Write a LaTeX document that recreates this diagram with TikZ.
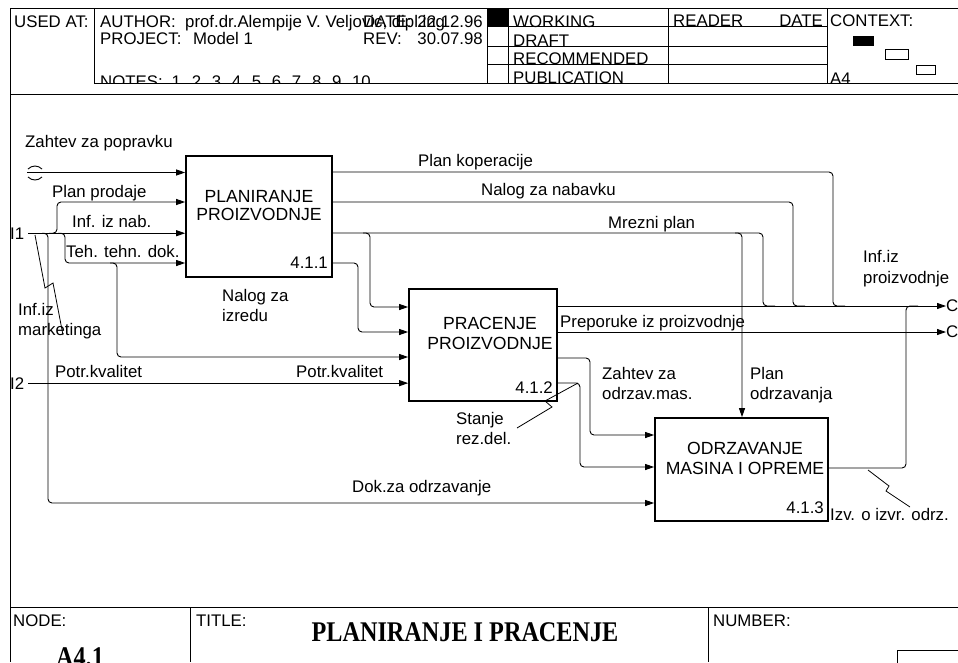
\documentclass[tikz,border=0pt]{standalone}
\usepackage{fontspec}
\setmainfont{Liberation Sans}
\newfontfamily\ttlfont{Liberation Serif}
\usetikzlibrary{arrows.meta}
\newcommand{\lbsize}{\fontsize{16.8}{19}\selectfont}
\newcommand{\bxsize}{\fontsize{17.6}{19}\selectfont}
\newcommand{\ttlsize}{\ttlfont\bfseries\fontsize{28.5}{30}\selectfont}
\newcommand{\nsp}{\hspace{10.7pt}}
\tikzset{
  act/.style={draw, line width=1.7pt, inner sep=0pt},
  bxt/.style={font=\bxsize, inner sep=0pt, anchor=base},
  lbl/.style={font=\lbsize, inner sep=0pt, anchor=base west},
  num/.style={font=\lbsize, inner sep=0pt, anchor=base east},
  arr/.style={-{Triangle[length=9pt,width=6pt]}, line width=0.9pt, rounded corners=4pt},
  flow/.style={line width=0.9pt, rounded corners=4pt},
  sqg/.style={line width=0.8pt},
  frm/.style={line width=0.9pt},
}

\begin{document}
\begin{tikzpicture}[x=1pt, y=-1pt]
  \useasboundingbox (0,0) rectangle (958,662);
  \clip (0,0) rectangle (958,662);

  % header
  \node[lbl] (usedat) at (14,27) {USED AT:};
  \node[lbl] (author) at (100,27) {AUTHOR:};
  \node[lbl] (authnm) at (185,27) {prof.dr.Alempije V. Veljovic, dipl.ing};
  \node[lbl] (date) at (363,27) {DATE:};
  \node[num] (dateval) at (483,27) {22.12.96};
  \node[lbl] (proj) at (100,44) {PROJECT:};
  \node[lbl] (projnm) at (193,44) {Model 1};
  \node[lbl] (rev) at (363,44) {REV:};
  \node[num] (revval) at (483,44) {30.07.98};
  \node[lbl] (notes) at (100,87) {NOTES:\hspace{9pt}1\nsp2\nsp3\nsp4\nsp5\nsp6\nsp7\nsp8\nsp9\nsp10};
  \fill[white] (94.5,83.5) rectangle (958,93.5);
  \fill[black] (487,8) rectangle (508,26);
  \node[lbl] (working) at (513,27) {WORKING};
  \node[lbl] (draft) at (513,46) {DRAFT};
  \node[lbl] (recom) at (513,64) {RECOMMENDED};
  \node[lbl] (publ) at (513,83) {PUBLICATION};
  \node[lbl] (reader) at (673,26) {READER};
  \node[num] (rdate) at (823,26) {DATE};
  \node[lbl] (context) at (830,26) {CONTEXT:};
  \node[lbl] (sheet) at (830,84) {A4};
  \fill[black] (853,36) rectangle (874,46);
  \draw[frm] (885,49) rectangle (908,59);
  \draw[frm] (916,65) rectangle (935,74);
  \draw[frm] (10,8) -- (958,8);
  \draw[frm] (10,8) -- (10,662);
  \draw[frm] (94,8) -- (94,83);
  \draw[frm] (487,8) -- (487,83);
  \draw[frm] (508,8) -- (508,83);
  \draw[frm] (668,8) -- (668,83);
  \draw[frm] (827,8) -- (827,83);
  \draw[frm] (487,26) -- (827,26);
  \draw[frm] (487,46) -- (827,46);
  \draw[frm] (487,64) -- (827,64);
  \draw[frm] (94,83) -- (958,83);
  \draw[frm] (10,94) -- (958,94);

  % activities
  \node[act, minimum width=146pt, minimum height=121pt] (b1) at (259,216.5) {};
  \node[act, minimum width=148pt, minimum height=112pt] (b2) at (483,345) {};
  \node[act, minimum width=173pt, minimum height=103pt] (b3) at (741.5,469.5) {};
  \node[bxt] (t1a) at (259,202) {PLANIRANJE};
  \node[bxt] (t1b) at (259,220) {PROIZVODNJE};
  \node[bxt] (t2a) at (490,329) {PRACENJE};
  \node[bxt] (t2b) at (490,349) {PROIZVODNJE};
  \node[bxt] (t3a) at (745,454) {ODRZAVANJE};
  \node[bxt] (t3b) at (745,474) {MASINA I OPREME};
  \node[num] (n1) at (328,268) {4.1.1};
  \node[num] (n2) at (553,393) {4.1.2};
  \node[num] (n3) at (824,513) {4.1.3};

  % boundary ends
  \node[lbl] (i1) at (10,239) {I1};
  \node[lbl] (i2) at (10,389) {I2};
  \node[font=\lbsize, inner sep=0pt, anchor=west] (c1) at (946,306) {C};
  \node[font=\lbsize, inner sep=0pt, anchor=west] (c2) at (946,332) {C};
  \coordinate (zp) at (27,172.5);
  \draw[flow] (28,169) .. controls (32,165) and (38,165) .. (42,169);
  \draw[flow] (28,177) .. controls (32,181) and (38,181) .. (42,177);

  % inputs
  \draw[arr] (zp) -- (zp -| b1.west);
  \draw[arr, shorten <=4pt] (i1.east) -- (i1.east -| b1.west);
  \draw[arr] (i1.east -| 49,0) -| (57,202) -- (b1.west |- 0,202);
  \draw[arr] (i1.east -| 58,0) -| (65,263) -- (b1.west |- 0,263);
  \draw[arr] (i1.east -| 42,0) -| (48,503) -- (b3.west |- 0,503);
  \draw[arr] (110,263) -| (117,357) -- (b2.west |- 0,357);
  \draw[arr, shorten <=4pt] (i2.east) -- (i2.east -| b2.west);

  % outputs of 4.1.1
  \draw[flow] (b1.east |- 0,172) -| (833,306) -- (845,306);
  \draw[flow] (b1.east |- 0,202) -| (793,306) -- (805,306);
  \draw[flow] (b1.east |- 0,233) -| (763,306) -- (775,306);
  \draw[arr] (363,233) -| (370,307) -- (b2.west |- 0,307);
  \draw[arr] (735,233) -| (b3.north -| 742,0);
  \draw[arr] (b1.east |- 0,263) -| (358,332) -- (b2.west |- 0,332);

  % outputs of 4.1.2 and 4.1.3
  \draw[arr] (b2.east |- c1) -- (c1.west);
  \draw[arr] (b2.east |- c2) -- (c2.west);
  \draw[arr] (b2.east |- 0,358) -| (590,435) -- (b3.west |- 0,435);
  \draw[arr] (b2.east |- 0,383) -| (580,467) -- (b3.west |- 0,467);
  \draw[flow] (b3.east |- 0,468) -| (906,306) -- (918,306);

  % squiggles
  \draw[sqg] (35,235) -- (45,288) -- (53,283) -- (63,335);
  \draw[sqg] (517,428) -- (552,407) -- (545,401) -- (578,383);
  \draw[sqg] (868,470) -- (889,486) -- (886,491) -- (910,507);

  % labels
  \node[lbl] (l1) at (25,147) {Zahtev za popravku};
  \node[lbl] (l2) at (52,197) {Plan prodaje};
  \node[lbl] (l3) at (72,227) {Inf. iz nab.};
  \node[lbl] (l4) at (66,257) {Teh. tehn. dok.};
  \node[lbl] (l5a) at (18,315) {Inf.iz};
  \node[lbl] (l5b) at (18,335) {marketinga};
  \node[lbl] (l6a) at (222,301) {Nalog za};
  \node[lbl] (l6b) at (222,321) {izredu};
  \node[lbl] (l7) at (55,377) {Potr.kvalitet};
  \node[lbl] (l8) at (296,377) {Potr.kvalitet};
  \node[lbl] (l9) at (418,166) {Plan koperacije};
  \node[lbl] (l10) at (481,195) {Nalog za nabavku};
  \node[lbl] (l11) at (608,228) {Mrezni plan};
  \node[lbl] (l12a) at (863,262) {Inf.iz};
  \node[lbl] (l12b) at (863,283) {proizvodnje};
  \node[lbl] (l13) at (560,327) {Preporuke iz proizvodnje};
  \node[lbl] (l14a) at (602,379) {Zahtev za};
  \node[lbl] (l14b) at (602,399) {odrzav.mas.};
  \node[lbl] (l15a) at (750,379) {Plan};
  \node[lbl] (l15b) at (750,399) {odrzavanja};
  \node[lbl] (l16a) at (456,424) {Stanje};
  \node[lbl] (l16b) at (456,444) {rez.del.};
  \node[lbl] (l17) at (352,492) {Dok.za odrzavanje};
  \node[lbl] (l18) at (830,520) {Izv. o izvr. odrz.};

  % footer
  \draw[frm] (10,607) -- (958,607);
  \draw[frm] (190,607) -- (190,662);
  \draw[frm] (708,607) -- (708,662);
  \draw[frm] (897,650) rectangle (970,680);
  \node[lbl] (node) at (13,626) {NODE:};
  \node[lbl] (title) at (196,626) {TITLE:};
  \node[lbl] (number) at (713,626) {NUMBER:};
  \node[font=\ttlsize, inner sep=0pt, anchor=base] (ttl) at (465,641) {\scalebox{0.85}[1]{PLANIRANJE I PRACENJE}};
  \node[font=\ttlsize, inner sep=0pt, anchor=base] (ndnm) at (80,666) {\scalebox{0.85}[1]{A4.1}};
\end{tikzpicture}
\end{document}
